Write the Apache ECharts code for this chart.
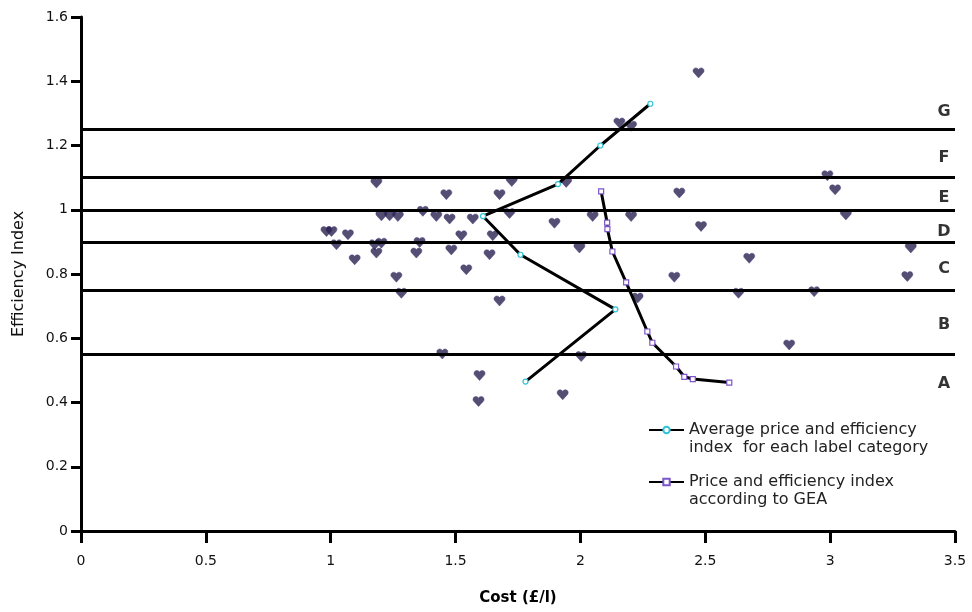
<!DOCTYPE html>
<html>
<head>
<meta charset="utf-8">
<title>Cost vs efficiency index</title>
<script src="https://cdn.jsdelivr.net/npm/echarts@6/dist/echarts.min.js"></script>
<style>
  html, body { margin: 0; padding: 0; background: #fff; }
  #chart { width: 972px; height: 612px; }
</style>
</head>
<body>
<div id="chart"></div>
<script>
// Individual products: [cost £/l, efficiency index]
const productPoints = [
  [2.473, 1.426],
  [2.156, 1.270], [2.203, 1.260],
  [1.183, 1.083], [1.725, 1.088], [1.943, 1.085],
  [1.463, 1.047], [1.676, 1.047], [2.396, 1.052],
  [1.369, 0.995], [1.203, 0.981], [1.236, 0.981], [1.269, 0.979],
  [1.423, 0.979], [1.476, 0.971], [1.569, 0.971], [1.716, 0.988],
  [2.049, 0.979], [2.203, 0.979], [1.896, 0.958],
  [0.983, 0.932], [1.003, 0.932], [1.069, 0.922], [1.523, 0.919], [1.649, 0.919],
  [1.023, 0.891], [1.176, 0.891], [1.203, 0.896], [1.356, 0.898],
  [1.343, 0.865], [1.183, 0.865], [1.483, 0.875], [1.636, 0.860], [1.996, 0.881],
  [1.096, 0.844], [1.543, 0.813], [1.263, 0.790], [2.376, 0.790],
  [1.283, 0.740], [1.676, 0.716], [2.229, 0.725],
  [1.447, 0.551], [2.003, 0.543], [1.596, 0.484], [1.592, 0.403], [1.929, 0.424],
  [2.483, 0.948], [2.676, 0.849], [2.989, 1.106], [3.020, 1.062], [3.063, 0.984],
  [3.323, 0.881], [3.309, 0.792], [2.633, 0.740], [2.936, 0.745], [2.836, 0.579]
];

// Average price and efficiency index per label category (G down to A)
const categoryAverage = [
  [2.28, 1.33], [2.08, 1.20], [1.91, 1.08], [1.61, 0.98],
  [1.76, 0.86], [2.14, 0.69], [1.78, 0.465]
];

// Price/efficiency relation according to GEA
const geaCurve = [
  [2.083, 1.057], [2.107, 0.960], [2.108, 0.940], [2.128, 0.870],
  [2.183, 0.774], [2.268, 0.621], [2.288, 0.586], [2.383, 0.512],
  [2.416, 0.480], [2.450, 0.473], [2.596, 0.462]
];

// Label category boundaries and band letters
const bandBoundaries = [1.25, 1.1, 1.0, 0.9, 0.75, 0.55];
const bandLetters = ['G', 'F', 'E', 'D', 'C', 'B', 'A'];
const bandLetterY = [1.305, 1.162, 1.037, 0.931, 0.816, 0.642, 0.458];
const bandLetterX = 3.456;

const xTicks = ['0', '0.5', '1', '1.5', '2', '2.5', '3', '3.5'];
const yTicks = ['0', '0.2', '0.4', '0.6', '0.8', '1', '1.2', '1.4', '1.6'];

const seriesNames = [
  'Average price and efficiency\nindex  for each label category',
  'Price and efficiency index\naccording to GEA'
];

const FONT = '"DejaVu Sans", "Liberation Sans", Arial, sans-serif';
const heart = 'path://M5,10 L0.6,4.6 C-0.6,3 0.2,0 2.6,0 C3.8,0 4.6,0.8 5,1.6 C5.4,0.8 6.2,0 7.4,0 C9.8,0 10.6,3 9.4,4.6 Z';

const chart = echarts.init(document.getElementById('chart'), null, { renderer: 'canvas' });

const baseX = { type: 'value', min: 0, max: 3.5, interval: 0.5, splitLine: { show: false } };
const baseY = { type: 'value', min: 0, max: 1.6, interval: 0.2, splitLine: { show: false } };

// Legend entry: a leading blank line keeps the icon level with the first text line
function legendFor(name, top) {
  return {
    data: [name],
    orient: 'vertical',
    left: 643,
    top: top,
    itemWidth: 35,
    itemHeight: 8,
    selectedMode: false,
    formatter: (n) => '\n' + n,
    textStyle: { fontFamily: FONT, fontSize: 16, color: '#222', lineHeight: 18 }
  };
}

chart.setOption({
  animation: false,
  backgroundColor: '#fff',
  grid: { left: 81, right: 17, top: 17, bottom: 81, containLabel: false },
  xAxis: [
    Object.assign({}, baseX, {
      name: 'Cost (£/l)',
      nameLocation: 'middle',
      nameGap: 60,
      nameTextStyle: { fontFamily: FONT, fontSize: 15, fontWeight: 'bold', color: '#000' },
      axisLine: { show: true, onZero: false, lineStyle: { color: '#000', width: 3 } },
      axisTick: { show: true, inside: false, length: 3, lineStyle: { color: '#000', width: 3 } },
      axisLabel: {
        margin: 23, fontFamily: FONT, fontSize: 14, color: '#111',
        formatter: (v) => xTicks[Math.round(v / 0.5)]
      }
    }),
    Object.assign({}, baseX, {
      axisLine: { show: false },
      axisTick: { show: true, inside: true, length: 12, lineStyle: { color: '#000', width: 3 } },
      axisLabel: { show: false }
    })
  ],
  yAxis: [
    Object.assign({}, baseY, {
      name: 'Efficiency Index',
      nameLocation: 'middle',
      nameGap: 54,
      nameTextStyle: { fontFamily: FONT, fontSize: 16, color: '#111' },
      axisLine: { show: true, onZero: false, lineStyle: { color: '#000', width: 3 } },
      axisTick: { show: true, inside: false, length: 7, lineStyle: { color: '#000', width: 3 } },
      axisLabel: {
        margin: 13, fontFamily: FONT, fontSize: 14, color: '#111',
        formatter: (v) => yTicks[Math.round(v / 0.2)]
      }
    }),
    Object.assign({}, baseY, {
      axisLine: { show: false },
      axisTick: { show: true, inside: true, length: 10, lineStyle: { color: '#000', width: 3 } },
      axisLabel: { show: false }
    })
  ],
  legend: [legendFor(seriesNames[0], 398), legendFor(seriesNames[1], 450)],
  series: [
    {
      // band boundaries and category letters
      type: 'scatter',
      silent: true,
      z: 1,
      symbol: 'circle',
      symbolSize: 1,
      itemStyle: { color: 'transparent' },
      data: bandLetterY.map((y, i) => ({ value: [bandLetterX, y], name: bandLetters[i] })),
      label: {
        show: true, position: 'inside', formatter: (p) => p.name,
        fontFamily: FONT, fontSize: 16, fontWeight: 'bold', color: '#000'
      },
      markLine: {
        silent: true,
        symbol: ['none', 'none'],
        label: { show: false },
        lineStyle: { color: '#000', width: 3, type: 'solid' },
        data: bandBoundaries.map((v) => ({ yAxis: v }))
      }
    },
    {
      type: 'scatter',
      name: 'products',
      z: 2,
      symbol: heart,
      symbolSize: [11, 10],
      itemStyle: { color: '#2a2250', borderColor: '#463679', borderWidth: 0.6 },
      data: productPoints
    },
    {
      type: 'line',
      name: seriesNames[0],
      z: 3,
      data: categoryAverage,
      symbol: 'circle',
      symbolSize: 5,
      showAllSymbol: true,
      lineStyle: { color: '#000', width: 3 },
      itemStyle: { color: '#fff', borderColor: '#2ec4d8', borderWidth: 1.2 }
    },
    {
      type: 'line',
      name: seriesNames[1],
      z: 3,
      data: geaCurve,
      symbol: 'rect',
      symbolSize: 5,
      showAllSymbol: true,
      lineStyle: { color: '#000', width: 3 },
      itemStyle: { color: '#fff', borderColor: '#7b55c9', borderWidth: 1.2 }
    }
  ]
});
</script>
</body>
</html>
